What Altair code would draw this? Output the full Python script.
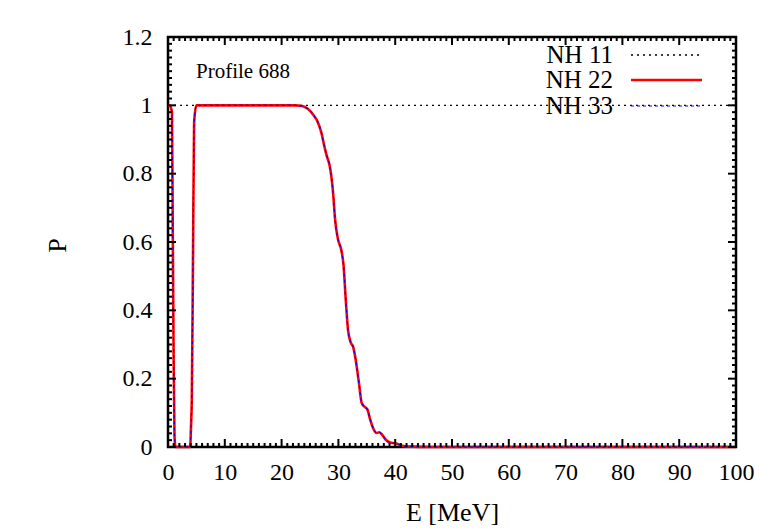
import altair as alt
import pandas as pd

# ---- data ----
E = [0.0, 0.3, 0.7, 0.85, 1.0, 1.15, 1.3, 3.9, 4.05, 4.2, 4.4, 4.6, 5.0, 5.5, 10.0, 15.0,
     20.0, 22.4, 23.6, 24.6, 25.6, 26.4, 27.0, 27.4, 27.9, 28.5, 28.8, 29.1, 29.4, 29.9, 30.5,
     30.9, 31.3, 31.7, 32.2, 32.6, 33.0, 33.6, 34.1, 34.6, 35.1, 35.6, 36.2, 36.7, 37.2,
     37.6, 38.3, 39.1, 40.0, 41.4, 43.0, 46.0, 50.0, 60.0, 70.0, 80.0, 90.0, 100.0]
P_22 = [1.0, 1.0, 0.98, 0.6, 0.25, 0.03, 0.0, 0.0, 0.06, 0.15, 0.55, 0.95, 1.0, 1.0, 1.0, 1.0,
        1.0, 1.0, 0.998, 0.99, 0.972, 0.95, 0.92, 0.89, 0.855, 0.82, 0.786, 0.737, 0.669, 0.61, 0.577,
        0.533, 0.43, 0.342, 0.305, 0.293, 0.26, 0.19, 0.129, 0.118, 0.11, 0.08, 0.052, 0.041, 0.043,
        0.038, 0.022, 0.013, 0.011, 0.003, 0.001, 0.0, 0.0, 0.0, 0.0, 0.0, 0.0, 0.0]
P_33 = list(P_22)
E_11 = [0.0, 100.0]
P_11 = [1.0, 1.0]

series_names = ["NH 11", "NH 22", "NH 33"]
x_ticks = [0, 10, 20, 30, 40, 50, 60, 70, 80, 90, 100]
y_ticks = [0, 0.2, 0.4, 0.6, 0.8, 1.0, 1.2]
x_minor = [v for v in range(0, 101) if v % 10 != 0]
y_minor = [round(i * 0.02, 2) for i in range(0, 61) if i % 10 != 0]

FONT = "Liberation Serif"
W, H = 568, 410

df = pd.concat([
    pd.DataFrame({"E": E_11, "P": P_11, "s": series_names[0]}),
    pd.DataFrame({"E": E, "P": P_22, "s": series_names[1]}),
    pd.DataFrame({"E": E, "P": P_33, "s": series_names[2]}),
])

xs = alt.Scale(domain=[0, 100], nice=False, zero=False)
ys = alt.Scale(domain=[0, 1.2], nice=False, zero=False)

xax = alt.Axis(values=x_ticks, title="E [MeV]", grid=False, domain=False, ticks=False,
               labelFont=FONT, labelFontSize=24, labelColor="black", labelPadding=13,
               titleFont=FONT, titleFontSize=26, titleFontWeight="normal", titleColor="black",
               titleY=73, titleBaseline="alphabetic", labelFlush=False)
yax = alt.Axis(values=y_ticks, title="P", grid=False, domain=False, ticks=False, format="~g",
               labelFont=FONT, labelFontSize=24, labelColor="black", labelPadding=16,
               titleFont=FONT, titleFontSize=26, titleFontWeight="normal", titleColor="black",
               titleX=-111, titleY=208, titleBaseline="middle", titleAngle=-90, labelFlush=False)

styles = {
    "NH 11": dict(color="black", strokeWidth=1.3, strokeDash=[2, 4]),
    "NH 22": dict(color="#ff0000", strokeWidth=2.6),
    "NH 33": dict(color="#0000ff", strokeWidth=1.1, strokeDash=[3, 3]),
}

layers = []
for name in series_names:
    st = styles[name]
    layers.append(
        alt.Chart(df).transform_filter(alt.datum.s == name)
        .mark_line(interpolate="monotone", **st)
        .encode(x=alt.X("E:Q", scale=xs, axis=xax),
                y=alt.Y("P:Q", scale=ys, axis=yax))
    )

# inward ticks (gnuplot style) on all four sides
xt = pd.DataFrame({"v": x_ticks})
xm = pd.DataFrame({"v": x_minor})
yt = pd.DataFrame({"v": y_ticks})
ym = pd.DataFrame({"v": y_minor})
tick_w = 2
def xrule(d, y0, y1):
    return alt.Chart(d).mark_rule(color="black", strokeWidth=tick_w).encode(
        x=alt.X("v:Q", scale=xs, axis=xax), y=alt.value(y0), y2=alt.value(y1))
def yrule(d, x0, x1):
    return alt.Chart(d).mark_rule(color="black", strokeWidth=tick_w).encode(
        y=alt.Y("v:Q", scale=ys, axis=yax), x=alt.value(x0), x2=alt.value(x1))

layers += [
    xrule(xt, H, H - 8), xrule(xt, 0, 8), xrule(xm, H, H - 4), xrule(xm, 0, 4),
    yrule(yt, 0, 8), yrule(yt, W, W - 8), yrule(ym, 0, 4), yrule(ym, W, W - 4),
]

# legend (top right, labels left of samples)
leg_y = [18, 43, 69]
for name, yy in zip(series_names, leg_y):
    st = styles[name]
    ld = pd.DataFrame({"s": [name]})
    layers.append(alt.Chart(ld).mark_text(font=FONT, fontSize=25, align="right",
                                          baseline="middle", color="black")
                  .encode(text="s:N", x=alt.value(445), y=alt.value(yy)))
    layers.append(alt.Chart(ld).mark_rule(**st).encode(
        x=alt.value(463), x2=alt.value(534), y=alt.value(yy)))

# profile label
layers.append(alt.Chart(pd.DataFrame({"t": ["Profile 688"]}))
              .mark_text(font=FONT, fontSize=21, align="left", baseline="middle", color="black")
              .encode(text="t:N", x=alt.value(28), y=alt.value(35)))

chart = alt.layer(*layers).properties(
    width=W, height=H, autosize="none",
    padding={"left": 160, "top": 29, "right": 22, "bottom": 82},
    background="white",
).configure_view(stroke="black", strokeWidth=2.5)

chart.save("out.html", embed_options={"renderer": "svg", "actions": False})
